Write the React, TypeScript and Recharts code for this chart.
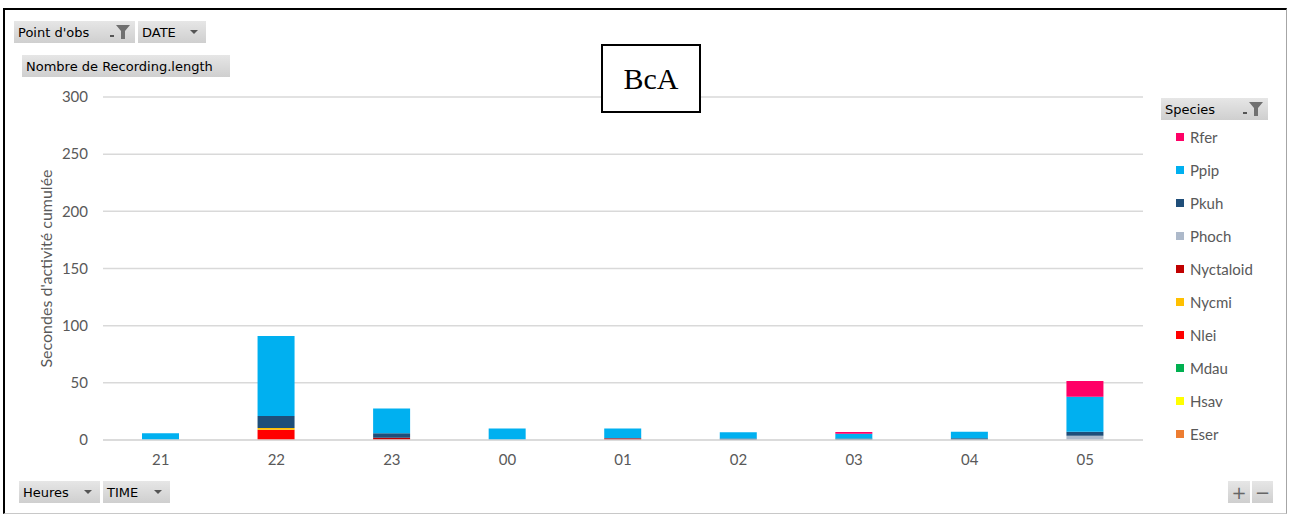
import { BarChart, Bar, XAxis, YAxis, CartesianGrid, Label } from 'recharts'

const hours = ['21', '22', '23', '00', '01', '02', '03', '04', '05']
const yTicks = [0, 50, 100, 150, 200, 250, 300]

// stacked bottom -> top
const eser = [0, 0, 0, 0, 0, 0, 0, 0, 0]
const hsav = [0, 0, 0, 0, 0, 0, 0, 0, 0]
const mdau = [0, 0, 0, 0, 0, 0, 0, 0, 0]
const nlei = [0, 9, 0, 0, 0, 0, 0, 0, 0]
const nycmi = [0, 1.5, 0, 0, 0, 0, 0, 0, 0]
const nyctaloid = [0, 0, 2, 0, 1.5, 0, 0, 0, 0]
const phoch = [0, 0, 0, 0, 0, 0, 0, 0, 3.8]
const pkuh = [0, 10.5, 4, 0, 0, 1.3, 1.3, 1.5, 3.5]
const ppip = [6, 70, 21.5, 10, 8.5, 5.5, 4.2, 5.8, 30.6]
const rfer = [0, 0, 0, 0, 0, 0, 1.5, 0, 13.7]

const series = [
  { key: 'Eser', values: eser, color: '#ED7D31' },
  { key: 'Hsav', values: hsav, color: '#FFFF00' },
  { key: 'Mdau', values: mdau, color: '#00B050' },
  { key: 'Nlei', values: nlei, color: '#FF0000' },
  { key: 'Nycmi', values: nycmi, color: '#FFC000' },
  { key: 'Nyctaloid', values: nyctaloid, color: '#C00000' },
  { key: 'Phoch', values: phoch, color: '#ADB9CA' },
  { key: 'Pkuh', values: pkuh, color: '#1F4E79' },
  { key: 'Ppip', values: ppip, color: '#00B0F0' },
  { key: 'Rfer', values: rfer, color: '#FF0066' },
]

const chartData = hours.map((h, i) => {
  const row: Record<string, string | number> = { hour: h }
  series.forEach(s => { row[s.key] = s.values[i] })
  return row
})

const btn: React.CSSProperties = {
  position: 'absolute',
  height: 22,
  background: 'linear-gradient(#e6e6e6, #cfcfcf)',
  fontFamily: '"DejaVu Sans", sans-serif',
  fontSize: 13,
  color: '#000',
  display: 'flex',
  alignItems: 'center',
  paddingLeft: 4,
  boxSizing: 'border-box',
  whiteSpace: 'nowrap',
}

function Arrow() {
  return (
    <svg width="8" height="5" style={{ position: 'absolute', right: 8, top: 9 }}>
      <path d="M0 0 L8 0 L4 4 Z" fill="#555" />
    </svg>
  )
}

function Funnel({ right }: { right: number }) {
  return (
    <svg width="22" height="16" style={{ position: 'absolute', right, top: 3 }}>
      <rect x="0" y="11" width="4" height="2" fill="#555" />
      <path d="M6 1 L20 1 L15 7 L15 15 L11 15 L11 7 Z" fill="#707070" />
    </svg>
  )
}

function LegendList() {
  const items = [...series].reverse()
  return (
    <div style={{ position: 'absolute', left: 1161, top: 98, width: 108, fontFamily: 'Lato, sans-serif' }}>
      <div style={{ ...btn, position: 'relative', width: 107, height: 22 }}>
        Species
        <Funnel right={3} />
      </div>
      {items.map((s, i) => (
        <div
          key={s.key}
          style={{
            position: 'absolute',
            left: 15,
            top: 30 + i * 33,
            height: 18,
            display: 'flex',
            alignItems: 'center',
            fontSize: 15,
            color: '#595959',
            whiteSpace: 'nowrap',
          }}
        >
          <span style={{ width: 8, height: 8, background: s.color, marginRight: 6, display: 'inline-block' }} />
          {s.key}
        </div>
      ))}
    </div>
  )
}

export default function App() {
  return (
    <div style={{ position: 'absolute', left: 0, top: 0, width: 1291, height: 514, background: '#fff' }}>
      <div
        style={{
          position: 'absolute',
          left: 3,
          top: 8,
          width: 1281,
          height: 503,
          borderTop: '2px solid #000',
          borderLeft: '2px solid #000',
          borderRight: '1px solid #a6a6a6',
          borderBottom: '1px solid #c8c8c8',
        }}
      />
      <div style={{ position: 'absolute', left: 0, top: 0 }}>
        <BarChart
          width={1291}
          height={514}
          data={chartData}
          margin={{ top: 97, right: 148, bottom: 34, left: 40 }}
          barSize={37}
        >
          <CartesianGrid vertical={false} stroke="#D9D9D9" strokeWidth={1.5} />
          <XAxis
            dataKey="hour"
            height={40}
            axisLine={{ stroke: '#D9D9D9', strokeWidth: 1.5 }}
            tickLine={false}
            tickSize={0}
            tickMargin={14}
            tick={{ fill: '#595959', fontSize: 15, fontFamily: 'Lato, sans-serif' }}
          />
          <YAxis
            width={63}
            domain={[0, 300]}
            ticks={yTicks}
            axisLine={false}
            tickLine={false}
            tickSize={0}
            tickMargin={15}
            tick={{ fill: '#595959', fontSize: 15, fontFamily: 'Lato, sans-serif' }}
          >
            <Label
              content={({ viewBox }: any) => {
                const cx = viewBox.x + 5
                const cy = viewBox.y + viewBox.height / 2
                return (
                  <text
                    x={cx}
                    y={cy}
                    transform={`rotate(-90 ${cx} ${cy})`}
                    textAnchor="middle"
                    dominantBaseline="central"
                    fill="#595959"
                    fontSize={16}
                    fontFamily="Lato, sans-serif"
                  >
                    Secondes d'activité cumulée
                  </text>
                )
              }}
            />
          </YAxis>
          {series.map(s => (
            <Bar key={s.key} dataKey={s.key} stackId="a" fill={s.color} isAnimationActive={false} />
          ))}
        </BarChart>
      </div>

      <LegendList />

      <div style={{ ...btn, left: 14, top: 21, width: 121 }}>
        Point d'obs
        <Funnel right={3} />
      </div>
      <div style={{ ...btn, left: 138, top: 21, width: 68 }}>
        DATE
        <Arrow />
      </div>
      <div style={{ ...btn, left: 22, top: 55, width: 208 }}>Nombre de Recording.length</div>
      <div style={{ ...btn, left: 19, top: 481, width: 81 }}>
        Heures
        <Arrow />
      </div>
      <div style={{ ...btn, left: 103, top: 481, width: 67 }}>
        TIME
        <Arrow />
      </div>
      <div style={{ ...btn, left: 1228, top: 481, width: 22, justifyContent: 'center', paddingLeft: 0, fontSize: 18, color: '#666' }}>+</div>
      <div style={{ ...btn, left: 1252, top: 481, width: 21, justifyContent: 'center', paddingLeft: 0, fontSize: 18, color: '#666' }}>−</div>

      <div
        style={{
          position: 'absolute',
          left: 601,
          top: 44,
          width: 100,
          height: 69,
          boxSizing: 'border-box',
          border: '2px solid #000',
          background: '#fff',
          display: 'flex',
          alignItems: 'center',
          justifyContent: 'center',
          fontFamily: '"Liberation Serif", serif',
          fontSize: 30,
        }}
      >
        BcA
      </div>
    </div>
  )
}
